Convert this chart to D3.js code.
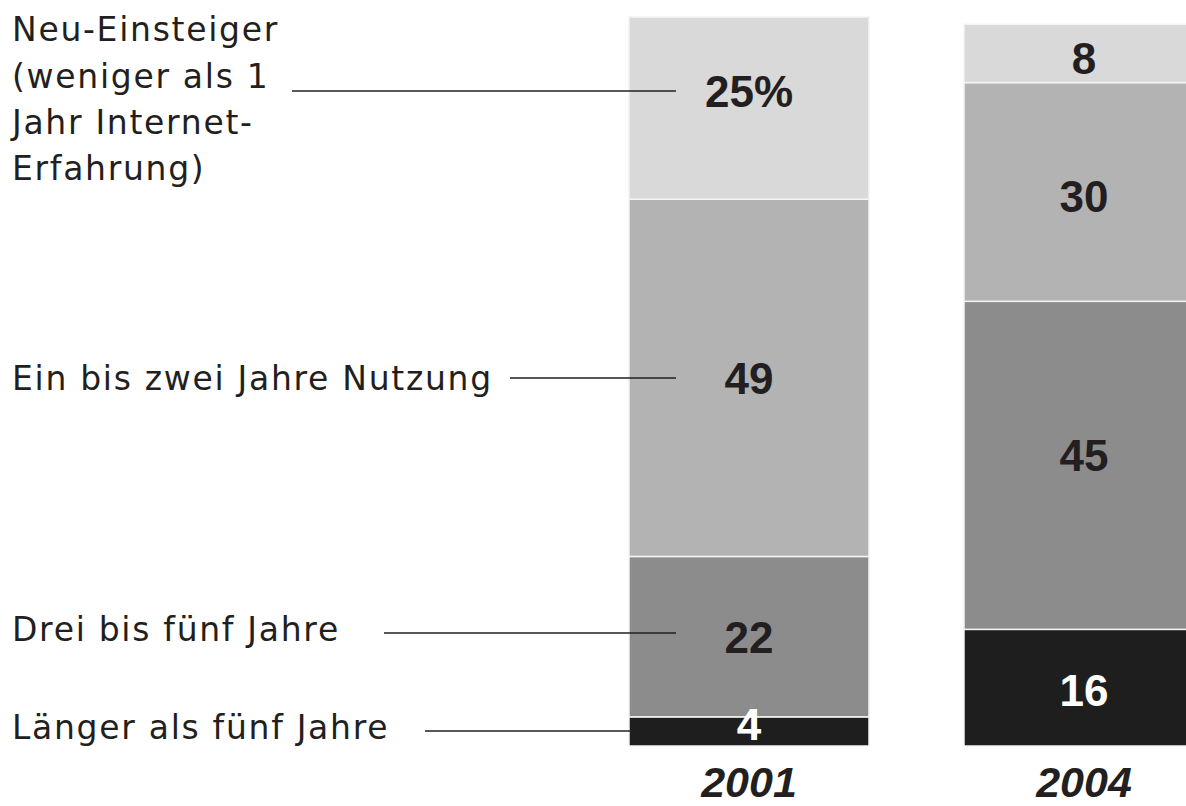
<!DOCTYPE html>
<html><head><meta charset="utf-8">
<script src="https://cdn.jsdelivr.net/npm/d3@7"></script>
<style>
html,body{margin:0;padding:0;background:#fff;}
svg{display:block;}
</style></head>
<body>
<svg id="chart" width="1186" height="806"></svg>
<script>
// ---- data ----
const years = ["2001", "2004"];
const categories = ["laenger", "dreiFuenf", "einZwei", "neu"]; // bottom -> top
const categoryLabels = [
  ["Länger als fünf Jahre"],
  ["Drei bis fünf Jahre"],
  ["Ein bis zwei Jahre Nutzung"],
  ["Neu-Einsteiger", "(weniger als 1", "Jahr Internet-", "Erfahrung)"]
];
const values2001 = [4, 22, 49, 25];
const values2004 = [16, 45, 30, 8];
const valueLabels2001 = ["4", "22", "49", "25%"];
const valueLabels2004 = ["16", "45", "30", "8"];

// ---- layout ----
const colors = ["#1e1e1e", "#8c8c8c", "#b3b3b3", "#d9d9d9"];
const textColors = ["#ffffff", "#231f20", "#231f20", "#231f20"];
const ink = "#231f20";

const svg = d3.select("#chart");

const rows = years.map((yr, i) => {
  const vals = i === 0 ? values2001 : values2004;
  const o = { year: yr };
  categories.forEach((c, j) => o[c] = vals[j]);
  return o;
});
const labelsByYear = { "2001": valueLabels2001, "2004": valueLabels2004 };

const x = d3.scaleBand().domain(years).range([629, 1204]).paddingInner(95 / 335).paddingOuter(0);
const y = d3.scaleLinear().domain([0, 100]).range([746, 17]);

const series = d3.stack().keys(categories)(rows);

const g = svg.append("g");
series.forEach((s, si) => {
  g.selectAll(null).data(s).join("rect")
    .attr("x", d => x(d.data.year))
    .attr("width", x.bandwidth())
    .attr("y", d => y(d[1]))
    .attr("height", d => y(d[0]) - y(d[1]))
    .attr("fill", colors[si])
    .attr("stroke", "#f4f4f4")
    .attr("stroke-width", 1.5);
});

// leader line y per category
const leaderY = [731, 633, 378, 91];

// value label vertical nudges [yearIndex][category]
const nudges = [[-7, 0, 0, 0], [2, -10, 4, 5]];

series.forEach((s, si) => {
  g.selectAll(null).data(s).join("text")
    .attr("x", d => x(d.data.year) + x.bandwidth() / 2)
    .attr("y", (d, i) => {
      let cy = (y(d[0]) + y(d[1])) / 2 + nudges[i][si];
      if (i === 0 && si === 3) cy = leaderY[3];
      if (i === 0 && si === 1) cy = leaderY[1] + 4;
      return cy;
    })
    .attr("dy", "0.36em")
    .attr("text-anchor", "middle")
    .attr("font-family", "'Liberation Sans', Arial, sans-serif")
    .attr("font-weight", "bold")
    .attr("font-size", 44)
    .attr("fill", textColors[si])
    .text(d => labelsByYear[d.data.year][si]);
});

// year labels
svg.selectAll(null).data(years).join("text")
  .attr("x", d => x(d) + x.bandwidth() / 2)
  .attr("y", 797)
  .attr("text-anchor", "middle")
  .attr("font-family", "'Liberation Sans', Arial, sans-serif")
  .attr("font-weight", "bold")
  .attr("font-style", "italic")
  .attr("font-size", 43)
  .attr("fill", ink)
  .text(d => d);

// category labels with leader lines
const labelFont = "'DejaVu Sans', sans-serif";
const labelSize = 33;
const labelBaselines = [[739], [641], [390], [41, 88, 134, 180]];
const leaderStart = [425, 384, 510, 292];
const leaderEnd = 676;

categoryLabels.forEach((lines, ci) => {
  const t = svg.append("text")
    .attr("font-family", labelFont)
    .attr("font-size", labelSize)
    .attr("fill", ink)
    .attr("letter-spacing", 1.7);
  lines.forEach((ln, li) => {
    t.append("tspan").attr("x", 12).attr("y", labelBaselines[ci][li]).text(ln);
  });
  svg.append("line")
    .attr("x1", leaderStart[ci]).attr("x2", leaderEnd)
    .attr("y1", leaderY[ci]).attr("y2", leaderY[ci])
    .attr("stroke", ink).attr("stroke-width", 1.4);
});
</script>
</body></html>
